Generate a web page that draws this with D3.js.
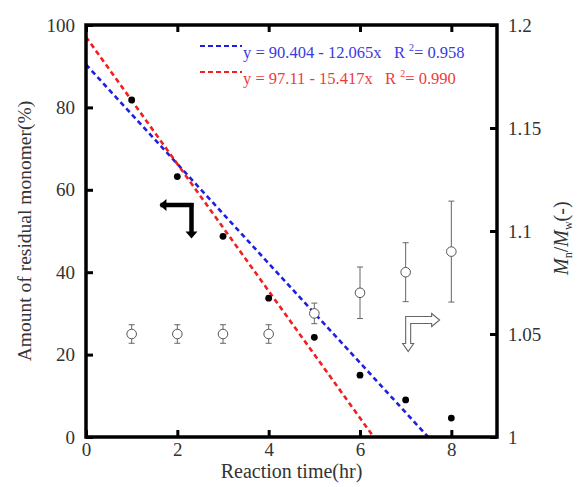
<!DOCTYPE html>
<html>
<head>
<meta charset="utf-8">
<script src="https://cdn.jsdelivr.net/npm/d3@7"></script>
<style>
  body { margin: 0; background: #fff; }
</style>
</head>
<body>
<svg id="chart" width="587" height="487"></svg>
<script>
// data
var times = [1, 2, 3, 4, 5, 6, 7, 8];
var monomer = [81.8, 63.2, 48.7, 33.7, 24.2, 15.0, 9.0, 4.6];
var dispersity = [1.050, 1.050, 1.050, 1.050, 1.060, 1.070, 1.080, 1.090];
var dispErr = [0.0045, 0.0045, 0.0045, 0.0045, 0.005, 0.0125, 0.0143, 0.0245];
var fits = [
  { a: 90.404, b: 12.065, r2: "0.958", color: "#1f1fe0", text: "#3a3ae0" },
  { a: 97.11, b: 15.417, r2: "0.990", color: "#f02020", text: "#f03a3a" }
];
var xTicks = [0, 2, 4, 6, 8];
var yTicks = [0, 20, 40, 60, 80, 100];
var y2Ticks = [1, 1.05, 1.1, 1.15, 1.2];

var serif = "Liberation Serif, serif";
var svg = d3.select("#chart");
var margin = { left: 86, top: 25, right: 90, bottom: 50 };
var width = 587 - margin.left - margin.right;
var height = 487 - margin.top - margin.bottom;

var x = d3.scaleLinear().domain([0, 9]).range([margin.left, margin.left + width]);
var y = d3.scaleLinear().domain([0, 100]).range([margin.top + height, margin.top]);
var y2 = d3.scaleLinear().domain([1, 1.2]).range([margin.top + height, margin.top]);

var g = svg.append("g");

// fit lines
fits.forEach(function (f) {
  var xEnd = f.a / f.b;
  g.append("line")
      .attr("x1", x(0)).attr("y1", y(f.a))
      .attr("x2", x(xEnd)).attr("y2", y(0))
      .attr("stroke", f.color)
      .attr("stroke-width", 2.6)
      .attr("stroke-dasharray", "5,3.5");
});

// error bars for Mn/Mw
var err = g.append("g").attr("stroke", "#666").attr("stroke-width", 1);
times.forEach(function (t, i) {
  var lo = y2(dispersity[i] - dispErr[i]), hi = y2(dispersity[i] + dispErr[i]);
  err.append("line").attr("x1", x(t)).attr("x2", x(t)).attr("y1", lo).attr("y2", hi);
  err.append("line").attr("x1", x(t) - 3).attr("x2", x(t) + 3).attr("y1", lo).attr("y2", lo);
  err.append("line").attr("x1", x(t) - 3).attr("x2", x(t) + 3).attr("y1", hi).attr("y2", hi);
});

g.append("g").selectAll("circle")
  .data(times)
  .join("circle")
    .attr("cx", function (d) { return x(d) })
    .attr("cy", function (d, i) { return y2(dispersity[i]) })
    .attr("r", 4.8)
    .attr("fill", "#fff")
    .attr("stroke", "#555")
    .attr("stroke-width", 1);

// residual monomer
g.append("g").selectAll("circle")
  .data(times)
  .join("circle")
    .attr("cx", function (d) { return x(d) })
    .attr("cy", function (d, i) { return y(monomer[i]) })
    .attr("r", 3.4)
    .attr("fill", "#000");

// axes, ticks pointing inward
var axisG = svg.append("g");
function styleAxis(sel) {
  sel.attr("font-family", null);
  sel.select(".domain").remove();
  sel.selectAll(".tick line").attr("stroke", "#000").attr("stroke-width", 3);
  sel.selectAll(".tick text")
      .attr("font-size", 19)
      .attr("fill", "#333")
      .style("font-family", serif);
}
axisG.append("g")
    .attr("transform", "translate(0," + (margin.top + height) + ")")
    .call(d3.axisBottom(x).tickValues(xTicks).tickSizeInner(-7).tickPadding(6))
    .call(styleAxis);
axisG.append("g")
    .attr("transform", "translate(0," + margin.top + ")")
    .call(d3.axisTop(x).tickValues(xTicks).tickSizeInner(-7).tickFormat(""))
    .call(styleAxis);
axisG.append("g")
    .attr("transform", "translate(" + margin.left + ",0)")
    .call(d3.axisLeft(y).tickValues(yTicks).tickSizeInner(-7).tickPadding(11))
    .call(styleAxis);
axisG.append("g")
    .attr("transform", "translate(" + (margin.left + width) + ",0)")
    .call(d3.axisRight(y2).tickValues(y2Ticks).tickSizeInner(-7).tickPadding(11)
      .tickFormat(function (d) { return String(d) }))
    .call(styleAxis);

svg.append("rect")
    .attr("x", margin.left).attr("y", margin.top)
    .attr("width", width).attr("height", height)
    .attr("fill", "none").attr("stroke", "#000").attr("stroke-width", 3.5);

// legend
fits.forEach(function (f, i) {
  var ly = 46 + i * 26;
  svg.append("line")
      .attr("x1", 200).attr("x2", 242).attr("y1", ly).attr("y2", ly)
      .attr("stroke", f.color).attr("stroke-width", 2.2)
      .attr("stroke-dasharray", "5,3");
  var t = svg.append("text")
      .attr("x", 243).attr("y", ly + 12)
      .attr("font-size", 16.5)
      .style("font-family", serif)
      .attr("fill", f.text)
      .attr("xml:space", "preserve");
  t.append("tspan").text("y = " + f.a + " - " + f.b.toFixed(3) + "x   R ");
  t.append("tspan").attr("font-size", 10).attr("dy", -7).text("2");
  t.append("tspan").attr("dy", 7).text("= " + f.r2);
});

// arrows: filled one points to the left axis, open one to the right axis
var ax = x(2.31), ay = y(56.3);
svg.append("path")
    .attr("d", "M" + (ax + 2) + "," + ay + "H" + (x(1.63)))
    .attr("stroke", "#000").attr("stroke-width", 4.5).attr("fill", "none");
svg.append("path")
    .attr("d", "M" + ax + "," + (ay - 2) + "V" + (y(49.5)))
    .attr("stroke", "#000").attr("stroke-width", 4.5).attr("fill", "none");
svg.append("path")
    .attr("d", "M" + (x(1.63) - 1) + "," + ay + "l7,-6v12z")
    .attr("fill", "#000");
svg.append("path")
    .attr("d", "M" + ax + "," + (y(48.2)) + "l-6,-7h12z")
    .attr("fill", "#000");

var bx = x(7.0), by = y2(1.0585);
var ox = x(7.7), oy = y2(1.0425);
svg.append("path")
    .attr("d", "M" + bx + "," + by +
      "H" + (ox - 6) + "v-3l8,6.5l-8,6.5v-3" +
      "H" + (bx + 5) + "V" + (oy - 6) + "h3l-5.5,8l-5.5,-8h3z")
    .attr("fill", "#fff").attr("stroke", "#666").attr("stroke-width", 1.1);

// axis titles
svg.append("text")
    .attr("x", x(4.5)).attr("y", 478)
    .attr("text-anchor", "middle")
    .style("font-family", serif)
    .attr("font-size", 20).attr("fill", "#333")
    .text("Reaction time(hr)");
svg.append("text")
    .attr("transform", "translate(31," + y(50) + ") rotate(-90)")
    .attr("text-anchor", "middle")
    .style("font-family", serif)
    .attr("font-size", 19.5).attr("fill", "#333")
    .text("Amount of residual monomer(%)");
var rt = svg.append("text")
    .attr("transform", "translate(568," + y2(1.0965) + ") rotate(-90)")
    .attr("text-anchor", "middle")
    .style("font-family", serif)
    .attr("font-size", 20).attr("fill", "#333");
rt.append("tspan").attr("font-style", "italic").text("M");
rt.append("tspan").attr("font-size", 12).attr("dy", 4).text("n");
rt.append("tspan").attr("dy", -4).text("/");
rt.append("tspan").attr("font-style", "italic").text("M");
rt.append("tspan").attr("font-size", 12).attr("dy", 4).text("w");
rt.append("tspan").attr("dy", -4).text("(-)");
</script>
</body>
</html>
